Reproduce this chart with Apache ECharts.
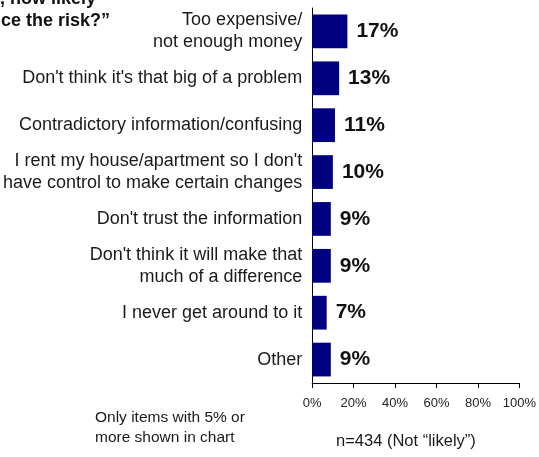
<!DOCTYPE html>
<html>
<head>
<meta charset="utf-8">
<script src="https://cdn.jsdelivr.net/npm/echarts@6/dist/echarts.min.js"></script>
<style>
  html, body { margin: 0; padding: 0; background: #fff; }
  #chart { width: 539px; height: 457px; }
</style>
</head>
<body>
<div id="chart"></div>
<script>
// Reasons given for not acting (share of respondents)
const categories = [
  "Too expensive/\nnot enough money",
  "Don't think it's that big of a problem",
  "Contradictory information/confusing",
  "I rent my house/apartment so I don't\nhave control to make certain changes",
  "Don't trust the information",
  "Don't think it will make that\nmuch of a difference",
  "I never get around to it",
  "Other"
];
const values = [17, 13, 11, 10, 9, 9, 7, 9];
const axisTicks = [0, 20, 40, 60, 80, 100];

const titleLines = [", how likely", "ce the risk?\u201D"];
const footnoteLines = ["Only items with 5% or", "more shown in chart"];
const sampleNote = "n=434 (Not \u201Clikely\u201D)";

const FONT = "'Liberation Sans', Arial, sans-serif";
const chart = echarts.init(document.getElementById('chart'), null, { renderer: 'canvas' });

chart.setOption({
  animation: false,
  backgroundColor: '#ffffff',
  grid: { left: 312, right: 18, top: 8, bottom: 74, containLabel: false },
  xAxis: {
    type: 'value',
    min: axisTicks[0],
    max: axisTicks[axisTicks.length - 1],
    interval: axisTicks[1] - axisTicks[0],
    splitLine: { show: false },
    axisLine: { show: true, lineStyle: { color: '#000', width: 1 } },
    axisTick: { show: true, length: 5, lineStyle: { color: '#000' } },
    axisLabel: {
      formatter: '{value}%',
      fontFamily: FONT,
      fontSize: 13,
      color: '#222',
      margin: 14
    }
  },
  yAxis: {
    type: 'category',
    inverse: true,
    data: categories,
    axisLine: { show: true, lineStyle: { color: '#000', width: 1 } },
    axisTick: { show: false },
    axisLabel: {
      fontFamily: FONT,
      fontSize: 18,
      lineHeight: 22,
      color: '#1a1a1a',
      margin: 10,
      align: 'right'
    }
  },
  series: [{
    type: 'bar',
    data: values,
    barCategoryGap: '28%',
    itemStyle: { color: '#000080' },
    label: {
      show: true,
      position: 'right',
      distance: 9,
      formatter: '{c}%',
      fontFamily: FONT,
      fontWeight: 'bold',
      fontSize: 21,
      color: '#111'
    }
  }],
  graphic: [
    {
      type: 'text', left: 0, top: -10,
      style: { text: titleLines[0], font: 'bold 18px ' + FONT, fill: '#111' }
    },
    {
      type: 'text', left: 1, top: 12,
      style: { text: titleLines[1], font: 'bold 18px ' + FONT, fill: '#111' }
    },
    {
      type: 'text', left: 95, top: 408,
      style: { text: footnoteLines.join('\n'), font: '15.5px ' + FONT, lineHeight: 20, fill: '#1a1a1a' }
    },
    {
      type: 'text', left: 336, top: 433,
      style: { text: sampleNote, font: '16.5px ' + FONT, fill: '#1a1a1a' }
    }
  ]
});
</script>
</body>
</html>
